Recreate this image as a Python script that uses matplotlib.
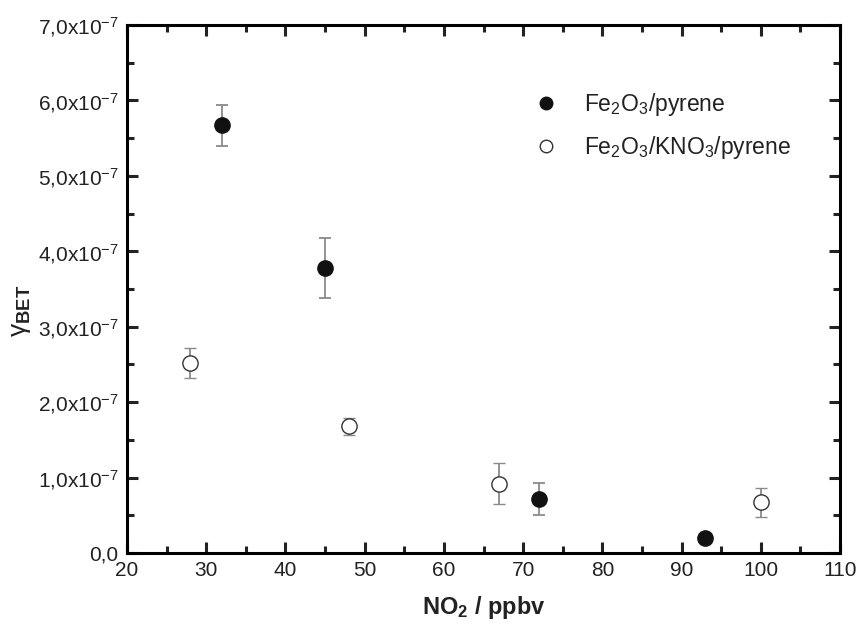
import numpy as np
import matplotlib.pyplot as plt
from matplotlib.lines import Line2D
from matplotlib.ticker import FixedLocator, MultipleLocator

plt.rcParams['font.family'] = ['Liberation Sans', 'DejaVu Sans']
plt.rcParams['mathtext.fontset'] = 'custom'
plt.rcParams['mathtext.rm'] = 'Liberation Sans'
plt.rcParams['mathtext.it'] = 'Liberation Sans:italic'
plt.rcParams['mathtext.bf'] = 'Liberation Sans:bold'

# Fe2O3/pyrene
no2_fe = [32, 45, 72, 93]
gamma_fe = [5.67e-7, 3.78e-7, 0.72e-7, 0.20e-7]
err_fe = [0.27e-7, 0.40e-7, 0.21e-7, 0.0]

# Fe2O3/KNO3/pyrene
no2_kno3 = [28, 48, 67, 100]
gamma_kno3 = [2.52e-7, 1.68e-7, 0.92e-7, 0.67e-7]
err_kno3 = [0.20e-7, 0.11e-7, 0.27e-7, 0.19e-7]

labels = ['Fe$_2$O$_3$/pyrene', 'Fe$_2$O$_3$/KNO$_3$/pyrene']
y_ticks = [0, 1e-7, 2e-7, 3e-7, 4e-7, 5e-7, 6e-7, 7e-7]
y_tick_labels = ['0,0'] + [f'{i},0x10$^{{-7}}$' for i in range(1, 8)]

fig = plt.figure(figsize=(8.59, 6.28), dpi=100)
ax = fig.add_axes([127 / 859, 75 / 628, 713 / 859, 528 / 628])

ax.errorbar(no2_fe, gamma_fe, yerr=err_fe, fmt='o', color='#111111', ecolor='#8a8a8a',
            elinewidth=1.3, capsize=4, capthick=1.3, markersize=11, zorder=3)
ax.errorbar(no2_kno3, gamma_kno3, yerr=err_kno3, fmt='o', color='#333333', mfc='white',
            mec='#333333', mew=1.0, ecolor='#8a8a8a', elinewidth=1.3, capsize=4,
            capthick=1.3, markersize=11, zorder=3)

ax.set_xlim(20, 110)
ax.set_ylim(0, 7e-7)
ax.xaxis.set_major_locator(MultipleLocator(10))
ax.xaxis.set_minor_locator(MultipleLocator(5))
ax.yaxis.set_major_locator(FixedLocator(y_ticks))
ax.yaxis.set_minor_locator(MultipleLocator(0.5e-7))
ax.set_yticklabels(y_tick_labels)

for s in ax.spines.values():
    s.set_linewidth(2.2)
ax.tick_params(which='both', direction='in', top=True, right=True, width=2.2,
               labelsize=15, colors='#222222')
ax.tick_params(which='major', length=8, pad=6)
ax.tick_params(which='minor', length=5)

ax.set_xlabel(r'NO$_{\mathbf{2}}$ / ppbv', fontsize=17, fontweight='bold', labelpad=10,
              color='#222222')
ax.set_ylabel(r'γ$_{\mathbf{BET}}$', fontsize=19, color='#222222')
ax.yaxis.set_label_coords(-0.132, 0.458)

handles = [
    Line2D([], [], ls='none', marker='o', color='#111111', markersize=9),
    Line2D([], [], ls='none', marker='o', mfc='white', mec='#333333', mew=1.0, markersize=9),
]
ax.legend(handles, labels, loc='upper left', bbox_to_anchor=(0.572, 0.875), frameon=False,
          fontsize=16.5, handlelength=1.0, handletextpad=1.15, labelspacing=0.7,
          borderpad=0, borderaxespad=0, labelcolor='#222222')

fig.savefig('out.png', dpi=100)
